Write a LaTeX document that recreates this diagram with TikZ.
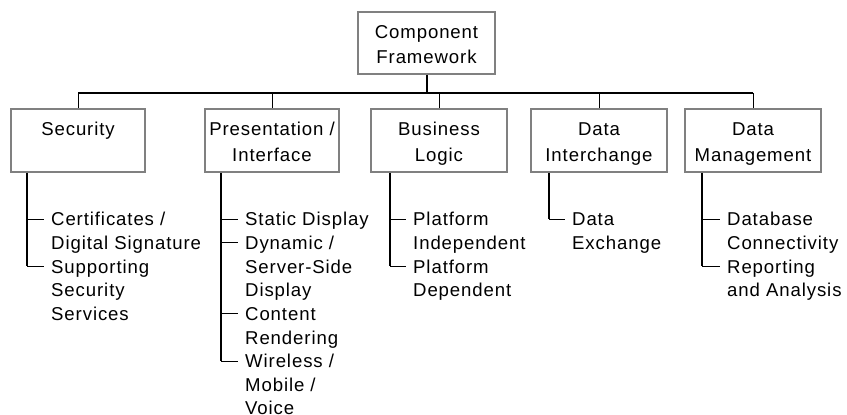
\documentclass[tikz,border=0pt]{standalone}
\usepackage{fontspec}
\setmainfont{Liberation Sans}[LetterSpace=4.8]
\definecolor{boxgray}{RGB}{128,128,128}
\newcommand\fsz{\fontsize{18.6}{23.8}\selectfont}
\newcommand\bst{\rule[-4.2pt]{0pt}{24.2pt}}
\begin{document}
\begin{tikzpicture}[x=1pt,y=-1pt,
  box/.style={draw=boxgray, line width=1.7pt, minimum height=63pt, inner sep=0pt, align=center, font=\fsz},
  item/.style={anchor=west, inner sep=0pt, text height=13.3pt, text depth=0pt, font=\fsz},
  heavy/.style={line width=2pt, black},
  light/.style={line width=1pt, black}]
\useasboundingbox (0,0) rectangle (847,415);
% boxes
\node[box, minimum width=137pt, minimum height=62pt] (top) at (426.5,43) {\bst Component\\\bst Framework};
\node[box, minimum width=134pt] (sec) at (78,140.5) {\bst Security\\\bst};
\node[box, minimum width=134pt] (pre) at (272,140.5) {\bst Presentation /\\\bst Interface};
\node[box, minimum width=136pt] (bus) at (439,140.5) {\bst Business\\\bst Logic};
\node[box, minimum width=136pt] (dit) at (599,140.5) {\bst Data\\\bst Interchange};
\node[box, minimum width=136pt] (dmg) at (753,140.5) {\bst Data\\\bst Management};
% top connectors
\draw[heavy] (top.south) -- ++(0,18) coordinate (hub);
\draw[heavy] (sec.north |- hub) -- (dmg.north |- hub);
\foreach \b in {sec,pre,bus,dit,dmg}{\draw[light] (\b.north |- hub) -- (\b.north);}
% vertical x positions
\coordinate (sv) at (27,0);
\coordinate (pv) at (221,0);
\coordinate (bv) at (390,0);
\coordinate (dv) at (549,0);
\coordinate (mv) at (702,0);
% Security items
\node[item] (s1a) at (51,219) {Certificates /};
\node[item] (s1b) at (51,242.7) {Digital Signature};
\node[item] (s3a) at (51,266.4) {Supporting};
\node[item] (s3b) at (51,290.1) {Security};
\node[item] (s3c) at (51,313.8) {Services};
% Presentation items
\node[item] (p1) at (245,219) {Static Display};
\node[item] (p2a) at (245,242.7) {Dynamic /};
\node[item] (p2b) at (245,266.4) {Server-Side};
\node[item] (p2c) at (245,290.1) {Display};
\node[item] (p5a) at (245,313.8) {Content};
\node[item] (p5b) at (245,337.5) {Rendering};
\node[item] (p7a) at (245,361.2) {Wireless /};
\node[item] (p7b) at (245,384.9) {Mobile /};
\node[item] (p7c) at (245,408.2) {Voice};
% Business items
\node[item] (b1a) at (413,219) {Platform};
\node[item] (b1b) at (413,242.7) {Independent};
\node[item] (b3a) at (413,266.4) {Platform};
\node[item] (b3b) at (413,290.1) {Dependent};
% Data interchange items
\node[item] (d1a) at (572,219) {Data};
\node[item] (d1b) at (572,242.7) {Exchange};
% Data management items
\node[item] (m1a) at (727,219) {Database};
\node[item] (m1b) at (727,242.7) {Connectivity};
\node[item] (m3a) at (727,266.4) {Reporting};
\node[item] (m3b) at (727,290.1) {and Analysis};
% vertical lines
\draw[heavy] (sec.south -| sv) -- (sv |- s3a.west);
\draw[heavy] (pre.south -| pv) -- (pv |- p7a.west);
\draw[heavy] (bus.south -| bv) -- (bv |- b3a.west);
\draw[heavy] (dit.south -| dv) -- (dv |- d1a.west);
\draw[heavy] (dmg.south -| mv) -- (mv |- m3a.west);
% ticks
\foreach \v/\n in {sv/s1a,sv/s3a,pv/p1,pv/p2a,pv/p5a,pv/p7a,bv/b1a,bv/b3a,dv/d1a,mv/m1a,mv/m3a}{
  \draw[light] (\v |- \n.west) -- ([xshift=-7pt]\n.west);}
\end{tikzpicture}
\end{document}
